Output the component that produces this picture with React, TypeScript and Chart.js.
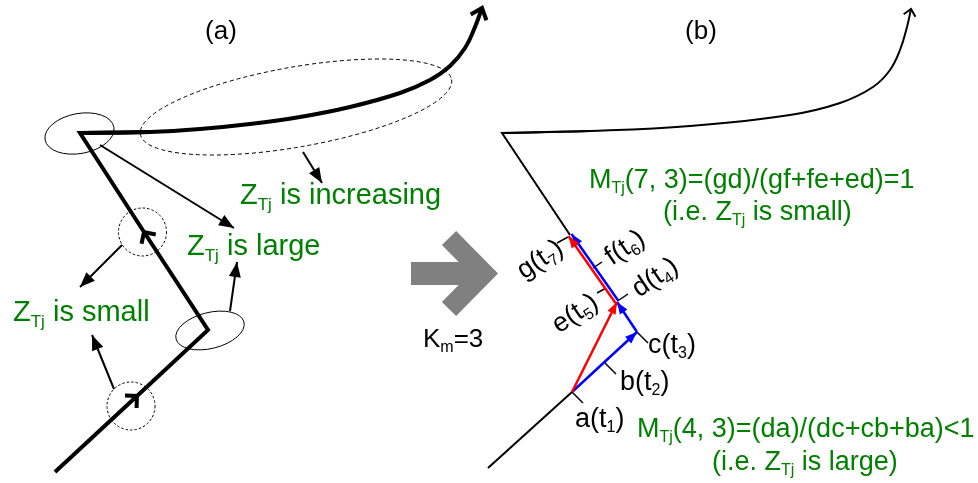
import React, { useEffect, useRef } from 'react';
import { Chart, registerables } from 'chart.js';
Chart.register(...registerables);

type Pt = [number, number];

// ---------------- Panel (a) geometry ----------------
const trajAPoly: Pt[] = [[55, 472], [137, 396], [208, 330], [144, 232], [80, 133], [150, 132]];
const trajAPolyArrowIdx = [1, 3];
const trajACurve: Pt[] = [[80, 133], [150, 132], [200, 129], [250, 124], [300, 117], [350, 107], [400, 93], [430, 80], [450, 66], [465, 48], [475, 27], [482, 8]];
const pointerArrowsA: Pt[][] = [
  [[100, 145], [234, 228]],
  [[303, 152], [322, 183]],
  [[230, 311], [237, 262]],
  [[122, 245], [80, 287]],
  [[114, 389], [92, 335]],
];
// [cx, cy, rx, ry, rotationDeg]
const solidEllipsesA: number[][] = [[79.5, 133.5, 35, 20, -10.5], [210, 330.5, 35, 18, -14]];
const dashedEllipsesA: number[][] = [[296, 107, 158, 40, -10]];
const dottedCirclesA: number[][] = [[142.5, 232, 24, 24, 0], [131, 406, 24, 24, 0]];

// ---------------- Transition arrow ----------------
const greyShaft: Pt[] = [[411, 273.5], [478, 273.5]];
const greyHead: Pt[] = [[449, 238], [484, 273.5], [449, 309]];

// ---------------- Panel (b) geometry ----------------
const trajBLower: Pt[] = [[488, 468], [572, 392]];
const trajBUpper: Pt[] = [[570, 235], [502, 133], [590, 131]];
const trajBCurve: Pt[] = [[502, 133], [590, 131], [690, 126], [790, 115], [840, 103], [873, 87], [890, 70], [900, 50], [907, 27], [911, 9]];
const blueSteps: Pt[][] = [
  [[572, 392], [637, 332]],
  [[637, 332], [617, 302]],
  [[618.5, 301], [571.5, 234]],
];
const redSteps: Pt[][] = [
  [[572, 392], [617, 302]],
  [[615.5, 303], [568.5, 236]],
];
const pointTicksB: Pt[][] = [
  [[572, 392], [583, 403]],
  [[604, 362], [616, 374]],
  [[637, 332], [648, 343]],
  [[619, 300], [628, 294]],
  [[606, 288], [597, 293]],
  [[593, 268], [602, 262]],
  [[568, 237], [557, 243]],
];

// ---------------- Text ----------------
const titleTexts = ['(a)', '(b)'];
const titlePos: Pt[] = [[221, 39], [701, 39]];
const greenTextsA = ['Z_{Tj} is increasing', 'Z_{Tj} is large', 'Z_{Tj} is small'];
const greenPosA: Pt[] = [[240, 204], [187, 255], [13, 321]];
const kmText = 'K_{m}=3';
const kmPos: Pt = [423, 347];
const greenTextsB = [
  'M_{Tj}(7, 3)=(gd)/(gf+fe+ed)=1',
  '(i.e. Z_{Tj} is small)',
  'M_{Tj}(4, 3)=(da)/(dc+cb+ba)<1',
  '(i.e. Z_{Tj} is large)',
];
const greenPosB: Pt[] = [[589, 188], [663, 220], [637, 437], [712, 470]];
const pointLabels = ['a(t_{1})', 'b(t_{2})', 'c(t_{3})'];
const pointLabelPos: Pt[] = [[575, 427], [620, 390], [648, 353]];
const rotLabels = ['g(t_{7})', 'f(t_{6})', 'd(t_{4})', 'e(t_{5})'];
const rotLabelPos: Pt[] = [[539, 258], [624, 246], [654, 276], [574, 312]];

const FONT = '"Liberation Sans", Arial, Helvetica, sans-serif';
const GREEN = '#008000';

function toData(pts: Pt[]) {
  return pts.map(([x, y]) => ({ x, y }));
}

function lineDs(pts: Pt[], color: string, width: number, extra: any = {}) {
  return {
    data: toData(pts),
    showLine: true,
    borderColor: color,
    backgroundColor: color,
    borderWidth: width,
    pointRadius: 0,
    pointHoverRadius: 0,
    tension: 0,
    fill: false,
    clip: false,
    borderCapStyle: 'butt',
    borderJoinStyle: 'miter',
    ...extra,
  };
}

function parseRich(s: string) {
  const out: { t: string; sub: boolean }[] = [];
  const re = /_\{([^}]*)\}/g;
  let last = 0;
  let m: RegExpExecArray | null;
  while ((m = re.exec(s))) {
    if (m.index > last) out.push({ t: s.slice(last, m.index), sub: false });
    out.push({ t: m[1], sub: true });
    last = re.lastIndex;
  }
  if (last < s.length) out.push({ t: s.slice(last), sub: false });
  return out;
}

function drawRich(ctx: CanvasRenderingContext2D, s: string, x: number, y: number, size: number, subSize: number, color: string, align: 'left' | 'center', rotDeg = 0) {
  const parts = parseRich(s);
  ctx.save();
  ctx.fillStyle = color;
  ctx.textBaseline = 'alphabetic';
  ctx.textAlign = 'left';
  let total = 0;
  const widths = parts.map((p) => {
    ctx.font = `${p.sub ? subSize : size}px ${FONT}`;
    const w = ctx.measureText(p.t).width;
    total += w;
    return w;
  });
  ctx.translate(x, y);
  if (rotDeg) ctx.rotate((rotDeg * Math.PI) / 180);
  let cx = align === 'center' ? -total / 2 : 0;
  const by = rotDeg ? size * 0.36 : 0;
  parts.forEach((p, i) => {
    ctx.font = `${p.sub ? subSize : size}px ${FONT}`;
    ctx.fillText(p.t, cx, by + (p.sub ? size * 0.2 : 0));
    cx += widths[i];
  });
  ctx.restore();
}

const diagramPlugin = {
  id: 'diagram',
  afterDatasetsDraw(chart: any) {
    const ctx: CanvasRenderingContext2D = chart.ctx;
    const xs = chart.scales.x;
    const ys = chart.scales.y;
    const px = (v: number) => xs.getPixelForValue(v);
    const py = (v: number) => ys.getPixelForValue(v);

    // arrowheads
    chart.data.datasets.forEach((ds: any, i: number) => {
      if (!ds.heads) return;
      const pts = chart.getDatasetMeta(i).data;
      ds.heads.forEach((h: any) => {
        const idx = h.at < 0 ? pts.length + h.at : h.at;
        const p = pts[idx];
        const q = pts[idx - 1];
        if (!p || !q) return;
        let ux = p.x - q.x;
        let uy = p.y - q.y;
        const L = Math.hypot(ux, uy) || 1;
        ux /= L;
        uy /= L;
        ctx.save();
        if (h.kind === 'filled') {
          const bx = p.x - ux * h.len;
          const by = p.y - uy * h.len;
          ctx.fillStyle = ds.borderColor;
          ctx.beginPath();
          ctx.moveTo(p.x, p.y);
          ctx.lineTo(bx - uy * h.w, by + ux * h.w);
          ctx.lineTo(bx + uy * h.w, by - ux * h.w);
          ctx.closePath();
          ctx.fill();
        } else {
          const a = (h.ang * Math.PI) / 180;
          const c = Math.cos(a);
          const s = Math.sin(a);
          const w1x = p.x - h.len * (ux * c - uy * s);
          const w1y = p.y - h.len * (ux * s + uy * c);
          const w2x = p.x - h.len * (ux * c + uy * s);
          const w2y = p.y - h.len * (-ux * s + uy * c);
          ctx.strokeStyle = ds.borderColor;
          ctx.lineWidth = ds.borderWidth;
          ctx.lineJoin = 'miter';
          ctx.lineCap = 'butt';
          ctx.beginPath();
          ctx.moveTo(w1x, w1y);
          ctx.lineTo(p.x, p.y);
          ctx.lineTo(w2x, w2y);
          ctx.stroke();
        }
        ctx.restore();
      });
    });

    // ellipses
    const drawEll = (e: number[], dash: number[]) => {
      const [cx, cy, rx, ry, rot] = e;
      ctx.save();
      ctx.strokeStyle = '#000';
      ctx.lineWidth = 1;
      ctx.setLineDash(dash);
      ctx.beginPath();
      ctx.ellipse(px(cx), py(cy), Math.abs(px(cx + rx) - px(cx)), Math.abs(py(cy + ry) - py(cy)), (rot * Math.PI) / 180, 0, Math.PI * 2);
      ctx.stroke();
      ctx.restore();
    };
    solidEllipsesA.forEach((e) => drawEll(e, []));
    dashedEllipsesA.forEach((e) => drawEll(e, [4, 3]));
    dottedCirclesA.forEach((e) => drawEll(e, [2.5, 2]));

    // texts
    titleTexts.forEach((t, i) => drawRich(ctx, t, px(titlePos[i][0]), py(titlePos[i][1]), 26, 16, '#000', 'center'));
    greenTextsA.forEach((t, i) => drawRich(ctx, t, px(greenPosA[i][0]), py(greenPosA[i][1]), 29, 17, GREEN, 'left'));
    drawRich(ctx, kmText, px(kmPos[0]), py(kmPos[1]), 26, 16, '#000', 'left');
    greenTextsB.forEach((t, i) => drawRich(ctx, t, px(greenPosB[i][0]), py(greenPosB[i][1]), 27, 16, GREEN, 'left'));
    pointLabels.forEach((t, i) => drawRich(ctx, t, px(pointLabelPos[i][0]), py(pointLabelPos[i][1]), 27, 16, '#000', 'left'));
    rotLabels.forEach((t, i) => drawRich(ctx, t, px(rotLabelPos[i][0]), py(rotLabelPos[i][1]), 27, 16, '#000', 'center', -34));
  },
};

export default function App() {
  const ref = useRef<HTMLCanvasElement | null>(null);
  useEffect(() => {
    if (!ref.current) return;
    const datasets: any[] = [];
    // grey transition arrow
    datasets.push(lineDs(greyShaft, '#808080', 23));
    datasets.push(lineDs(greyHead, '#808080', 20));
    // panel (a)
    datasets.push(lineDs(trajAPoly, '#000', 4, { heads: trajAPolyArrowIdx.map((at) => ({ at, kind: 'open', len: 12, ang: 45 })) }));
    datasets.push(lineDs(trajACurve, '#000', 4, { tension: 0.4, heads: [{ at: -1, kind: 'open', len: 13, ang: 40 }] }));
    pointerArrowsA.forEach((a) => datasets.push(lineDs(a, '#000', 2, { heads: [{ at: -1, kind: 'filled', len: 15, w: 6 }] })));
    // panel (b)
    datasets.push(lineDs(trajBLower, '#000', 2));
    datasets.push(lineDs(trajBUpper, '#000', 2));
    datasets.push(lineDs(trajBCurve, '#000', 2, { tension: 0.4, heads: [{ at: -1, kind: 'open', len: 9, ang: 42 }] }));
    pointTicksB.forEach((t) => datasets.push(lineDs(t, '#000', 1.5)));
    blueSteps.forEach((s) => datasets.push(lineDs(s, '#0000ff', 2.5, { heads: [{ at: -1, kind: 'filled', len: 12, w: 4.5 }] })));
    redSteps.forEach((s) => datasets.push(lineDs(s, '#ff0000', 2.5, { heads: [{ at: -1, kind: 'filled', len: 12, w: 4.5 }] })));
    datasets.forEach((d, i) => (d.order = -i));

    const chart = new Chart(ref.current, {
      type: 'scatter',
      data: { datasets },
      options: {
        animation: false,
        responsive: false,
        maintainAspectRatio: false,
        events: [],
        layout: { padding: 0 },
        plugins: { legend: { display: false }, tooltip: { enabled: false } },
        scales: {
          x: { type: 'linear', display: false, min: 0, max: 978 },
          y: { type: 'linear', display: false, min: 0, max: 483, reverse: true },
        },
      } as any,
      plugins: [diagramPlugin as any],
    });
    return () => chart.destroy();
  }, []);
  return (
    <div style={{ position: 'fixed', left: 0, top: 0, width: 978, height: 483, background: '#fff' }}>
      <canvas ref={ref} width={978} height={483} style={{ width: 978, height: 483, display: 'block' }} />
    </div>
  );
}
